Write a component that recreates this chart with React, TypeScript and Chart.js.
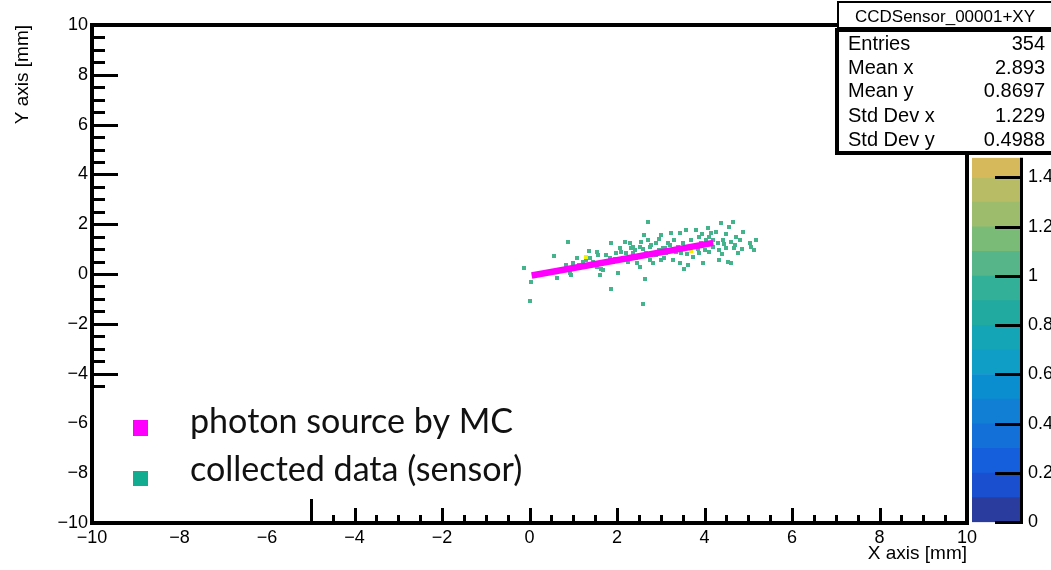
import { useEffect, useRef } from 'react';
import { Chart, registerables } from 'chart.js';
Chart.register(...registerables);

// ---- data ----
const xMajorTicks = [-10, -8, -6, -4, -2, 0, 2, 4, 6, 8, 10];
const yMajorTicks = [-10, -8, -6, -4, -2, 0, 2, 4, 6, 8, 10];
const minorStep = 0.5;

const photonX = [0.05, 4.2];
const photonY = [-0.06, 1.25];

const sensorX = [
  -0.13, 0.02, 0.04, 0.88, 0.57, 0.62, 0.92, 0.95, 1.08, 1.38, 1.35, 1.54, 1.56, 1.54, 1.64, 1.6, 1.67, 1.87, 1.83, 1.75,
  2.02, 1.87, 2.06, 2.18, 2.29, 2.33, 2.36, 2.44, 2.25, 2.52, 2.61, 2.55, 2.66, 2.7, 2.65, 2.59, 2.75, 2.82, 2.9, 3.01,
  3.05, 3.08, 3.2, 3.24, 3.28, 3.43, 3.39, 3.46, 3.43, 3.54, 3.62, 3.58, 3.7, 3.73, 3.81, 3.88, 3.92, 4.0, 3.96, 4.07,
  4.11, 4.19, 4.26, 4.3, 4.34, 4.38, 4.42, 4.49, 4.53, 4.57, 4.65, 4.68, 4.72, 4.76, 4.8, 4.87, 5.03, 5.06, 5.14, 5.18,
  4.34, 4.6, 2.36, 2.52, 2.75, 2.97, 3.12, 3.28, 3.5, 3.58, 3.73, 3.88, 4.04, 4.19, 1.98, 1.9, 2.13, 2.21, 1.6, 1.45,
  1.22, 1.14, 0.84, 1.75, 2.78, 3.16,
  2.4, 2.6, 2.9, 3.1, 3.35, 3.6, 3.85, 4.1, 4.45, 4.6, 4.5, 4.15, 3.95, 2.95, 2.7, 2.1, 1.95, 1.3, 1.0, 4.7,
  4.85, 4.4, 3.3, 2.45, 3.0,
];
const sensorY = [
  0.23, -1.07, -0.33, 1.29, 0.73, -0.15, 0.05, -0.04, 0.63, 0.63, 0.94, 0.9, 0.76, 0.29, 0.22, -0.04, 0.16, 1.23, 0.63, 0.43,
  0.03, -0.61, 1.03, 1.29, 1.23, 1.03, 0.83, 0.63, 0.49, 0.29, 1.55, 1.29, 0.83, 2.09, -0.21, -1.22, 0.56, 0.43, 1.23, 1.55,
  1.03, 0.63, 1.16, 1.63, 0.56, 1.63, 1.09, 0.83, 0.43, 0.22, 0.36, 1.76, 1.36, 0.7, 1.76, 1.49, 1.23, 0.96, 0.43, 1.83,
  1.49, 1.09, 1.69, 1.23, 0.96, 2.05, 1.36, 1.03, 0.49, 1.89, 2.09, 1.03, 1.49, 0.83, 1.36, 1.69, 1.23, 1.09, 0.96, 1.36,
  0.56, 0.46, 1.09, 1.09, 1.09, 0.96, 0.83, 0.96, 1.23, 1.09, 1.09, 0.83, 1.36, 1.36, 0.83, 0.49, 0.63, 0.83, 0.43, 0.49,
  0.49, 0.36, 0.36, 0.76, 1.16, 1.23,
  0.95, 1.0, 0.75, 1.05, 0.9, 0.8, 1.0, 0.9, 1.2, 1.3, 1.6, 1.65, 1.6, 1.4, 1.35, 0.9, 0.6, 0.55, 0.45, 1.15,
  1.0, 0.8, 1.35, 0.45, 0.55,
];
const hotX = [1.28, 3.68];
const hotY = [0.67, 0.94];

const paletteEdges = [0, 0.1, 0.2, 0.3, 0.4, 0.5, 0.6, 0.7, 0.8, 0.9, 1.0, 1.1, 1.2, 1.3, 1.4, 1.48];
const paletteColors = [
  '#2a3c9e', '#1a4fd0', '#165fdc', '#1370d8', '#1180d4', '#0b8ed0', '#0e9ec6', '#14a6b7',
  '#20aaa0', '#33b098', '#56b68a', '#7bbb78', '#9dbd6d', '#b7bc65', '#d5b95a',
];
const paletteTicks = [0, 0.2, 0.4, 0.6, 0.8, 1.0, 1.2, 1.4];

const statsTitle = 'CCDSensor_00001+XY';
const statsLabels = ['Entries', 'Mean x', 'Mean y', 'Std Dev x', 'Std Dev y'];
const statsValues = ['354', '2.893', '0.8697', '1.229', '0.4988'];

const legendLabels = ['photon source by MC', 'collected data (sensor)'];
const legendColors = ['#ff00ff', '#12ad90'];

const xTitle = 'X axis [mm]';
const yTitle = 'Y axis [mm]';

const FONT = "'Liberation Sans', Arial, sans-serif";

const fmt = (v: number) => {
  const r = Math.round(v * 100) / 100;
  return r < 0 ? '\u2212' + String(-r) : String(r);
};

function makeRect(color: string, w: number, h: number) {
  const c = document.createElement('canvas');
  c.width = w;
  c.height = h;
  const g = c.getContext('2d')!;
  g.fillStyle = color;
  g.fillRect(0, 0, w, h);
  return c;
}

const decorPlugin = {
  id: 'rootDecor',
  afterDraw(chart: any) {
    const { ctx, chartArea: a, scales } = chart;
    const xs = scales.x;
    const ys = scales.y;
    ctx.save();
    ctx.strokeStyle = '#000';
    ctx.lineCap = 'butt';
    ctx.lineWidth = 3;
    ctx.beginPath();
    for (let v = -10; v <= 10.0001; v += minorStep) {
      const major = xMajorTicks.some((t) => Math.abs(t - v) < 1e-6);
      const px = Math.round(xs.getPixelForValue(v)) + 0.5;
      ctx.moveTo(px, a.bottom);
      ctx.lineTo(px, a.bottom - (major ? 15 : 8));
    }
    for (let v = -10; v <= 10.0001; v += minorStep) {
      const major = yMajorTicks.some((t) => Math.abs(t - v) < 1e-6);
      const py = Math.round(ys.getPixelForValue(v)) + 0.5;
      ctx.moveTo(a.left, py);
      ctx.lineTo(a.left + (major ? 26 : 13), py);
    }
    ctx.stroke();

    // white legend pad hiding ticks
    const cx = xs.getPixelForValue(-5);
    const cy = ys.getPixelForValue(-5);
    ctx.fillStyle = '#fff';
    ctx.fillRect(a.left + 2, cy - 1.5, cx - a.left - 3.5, a.bottom - cy - 0.5);
    ctx.beginPath();
    ctx.moveTo(Math.round(cx) + 0.5, a.bottom);
    ctx.lineTo(Math.round(cx) + 0.5, a.bottom - 24);
    ctx.stroke();

    // frame
    ctx.lineWidth = 4;
    ctx.strokeRect(a.left, a.top, a.right - a.left, a.bottom - a.top);

    // legend
    ctx.fillStyle = legendColors[0];
    ctx.fillRect(133, 420, 15, 16);
    ctx.fillStyle = legendColors[1];
    ctx.fillRect(133, 471, 15, 15);
    ctx.fillStyle = '#111';
    ctx.textAlign = 'left';
    ctx.textBaseline = 'alphabetic';
    ctx.font = '100px Lato';
    const w0 = ctx.measureText(legendLabels[0]).width;
    const size = (100 * 323) / w0;
    ctx.font = `${size.toFixed(1)}px Lato`;
    ctx.fillText(legendLabels[0], 190, 433);
    ctx.fillText(legendLabels[1], 190, 481);

    // stats box
    ctx.fillStyle = '#fff';
    ctx.fillRect(837, 0, 220, 154);
    ctx.strokeStyle = '#000';
    ctx.lineWidth = 4;
    ctx.strokeRect(837, 30, 220, 123);
    ctx.lineWidth = 2;
    ctx.strokeRect(838, 2, 220, 26);
    ctx.fillStyle = '#000';
    ctx.font = `17px ${FONT}`;
    ctx.textAlign = 'center';
    ctx.fillText(statsTitle, 945, 22);
    ctx.font = `20px ${FONT}`;
    const base = [50, 74, 97, 122, 146];
    statsLabels.forEach((l, i) => {
      ctx.textAlign = 'left';
      ctx.fillText(l, 848, base[i]);
      ctx.textAlign = 'right';
      ctx.fillText(statsValues[i], 1045, base[i]);
    });
    ctx.restore();
  },
};

const palettePlugin = {
  id: 'paletteDecor',
  afterDraw(chart: any) {
    const { ctx, chartArea: a, scales } = chart;
    const ys = scales.y;
    ctx.save();
    ctx.strokeStyle = '#000';
    ctx.lineWidth = 3;
    ctx.beginPath();
    ctx.moveTo(a.right + 0.5, a.top);
    ctx.lineTo(a.right + 0.5, a.bottom + 1);
    paletteTicks.forEach((v) => {
      const py = Math.round(ys.getPixelForValue(v)) + 0.5;
      ctx.moveTo(a.right + 2, py);
      ctx.lineTo(a.right - 26, py);
    });
    ctx.stroke();
    ctx.restore();
  },
};

export default function App() {
  const mainRef = useRef<HTMLCanvasElement>(null);
  const palRef = useRef<HTMLCanvasElement>(null);

  useEffect(() => {
    document.body.style.margin = '0';
    const green = makeRect('#45b38b', 4, 4);
    const yellow = makeRect('#f2f200', 4, 4);
    const main = new Chart(mainRef.current!, {
      type: 'scatter',
      data: {
        datasets: [
          {
            label: 'photon',
            data: photonX.map((x, i) => ({ x, y: photonY[i] })),
            showLine: true,
            borderColor: '#ff00ff',
            backgroundColor: '#ff00ff',
            borderWidth: 6.5,
            borderCapStyle: 'butt',
            pointRadius: 0,
          } as any,
          {
            label: 'hot',
            data: hotX.map((x, i) => ({ x, y: hotY[i] })),
            pointStyle: yellow,
            pointRadius: 2,
          } as any,
          {
            label: 'sensor',
            data: sensorX.map((x, i) => ({ x, y: sensorY[i] })),
            pointStyle: green,
            pointRadius: 2,
          } as any,
        ],
      },
      options: {
        animation: false,
        responsive: false,
        events: [],
        layout: { padding: { left: 0, top: 25, right: 84, bottom: 0 } },
        plugins: { legend: { display: false }, tooltip: { enabled: false } },
        scales: {
          x: {
            type: 'linear',
            min: -10,
            max: 10,
            grid: { display: false, drawTicks: false },
            border: { display: false },
            ticks: {
              stepSize: 2,
              autoSkip: false,
              maxRotation: 0,
              padding: 4,
              color: '#000',
              font: { family: FONT, size: 18 },
              callback: (v: any) => fmt(Number(v)),
            },
            title: {
              display: true,
              text: xTitle,
              align: 'end',
              color: '#000',
              font: { family: FONT, size: 19 },
              padding: { top: 0, bottom: 5 },
            },
            afterFit: (s: any) => {
              s.height = 47;
            },
          },
          y: {
            type: 'linear',
            min: -10,
            max: 10,
            grid: { display: false, drawTicks: false },
            border: { display: false },
            ticks: {
              stepSize: 2,
              autoSkip: false,
              padding: 4,
              color: '#000',
              font: { family: FONT, size: 18 },
              callback: (v: any) => fmt(Number(v)),
            },
            title: {
              display: true,
              text: yTitle,
              align: 'end',
              color: '#000',
              font: { family: FONT, size: 19 },
              padding: { top: 11, bottom: 0 },
            },
            afterFit: (s: any) => {
              s.width = 92;
            },
          },
        },
      } as any,
      plugins: [decorPlugin],
    });

    const pal = new Chart(palRef.current!, {
      type: 'bar',
      data: {
        labels: [''],
        datasets: paletteColors.map((c, i) => ({
          label: String(i),
          data: [[paletteEdges[i], paletteEdges[i + 1]]],
          backgroundColor: c,
          borderWidth: 0,
          barPercentage: 1,
          categoryPercentage: 1,
          grouped: false,
        })) as any,
      },
      options: {
        animation: false,
        responsive: false,
        events: [],
        layout: { padding: { left: 12, top: 15, right: 0, bottom: 17 } },
        plugins: { legend: { display: false }, tooltip: { enabled: false } },
        scales: {
          x: { display: false },
          y: {
            min: 0,
            max: paletteEdges[paletteEdges.length - 1],
            position: 'right',
            grid: { display: false, drawTicks: false },
            border: { display: false },
            afterBuildTicks: (s: any) => {
              s.ticks = paletteTicks.map((v) => ({ value: v }));
            },
            ticks: {
              padding: 7,
              color: '#000',
              font: { family: FONT, size: 18 },
              callback: (v: any) => String(Math.round(Number(v) * 10) / 10),
            },
            afterFit: (s: any) => {
              s.width = 30;
            },
          },
        },
      } as any,
      plugins: [palettePlugin],
    });

    return () => {
      main.destroy();
      pal.destroy();
    };
  }, []);

  return (
    <div style={{ position: 'fixed', left: 0, top: 0, width: 1051, height: 570, background: '#fff', overflow: 'hidden' }}>
      <canvas ref={mainRef} width={1051} height={570} style={{ position: 'absolute', left: 0, top: 0 }} />
      <canvas ref={palRef} width={91} height={400} style={{ position: 'absolute', left: 960, top: 140 }} />
    </div>
  );
}
